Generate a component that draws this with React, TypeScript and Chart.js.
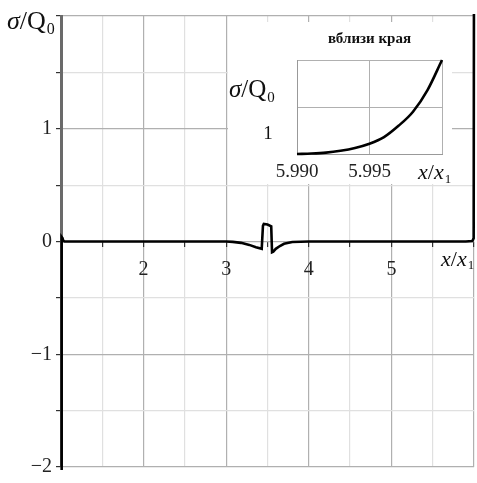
import React, { useEffect, useRef } from "react";
import { Chart, registerables } from "chart.js";

Chart.register(...registerables);

// Main curve: σ/Q0 against x/x1
const mainX = [1.0, 1.004, 1.008, 1.012, 1.018, 1.026, 1.04, 1.5, 2, 2.5, 3, 3.08, 3.18, 3.28, 3.36, 3.43, 3.445, 3.455, 3.5, 3.545, 3.555, 3.57, 3.6, 3.65, 3.7, 3.8, 4, 4.5, 5, 5.5, 5.9, 5.98, 5.996, 6.0];
const mainY = [-2.6, -1.2, -0.2, 0.04, 0.03, 0.01, 0, 0, 0, 0, 0, -0.003, -0.012, -0.03, -0.05, -0.065, 0.14, 0.155, 0.15, 0.135, -0.095, -0.09, -0.065, -0.04, -0.02, -0.005, 0, 0, 0, 0, 0, 0.005, 0.03, 2.6];

// Zoomed view near the edge
const insetX = [5.99, 5.991, 5.992, 5.993, 5.994, 5.995, 5.996, 5.997, 5.998, 5.999, 6.0];
const insetY = [0.5, 0.505, 0.515, 0.535, 0.565, 0.61, 0.68, 0.8, 0.95, 1.18, 1.5];

const mainYLabels: Record<string, string> = { "1": "1", "0": "0", "-1": "\u22121", "-2": "\u22122" };
const mainXLabels = [2, 3, 4, 5];
const insetXLabels: Record<string, string> = { "5.99": "5.990", "5.995": "5.995" };

const SERIF = "'Liberation Serif', 'DejaVu Serif', serif";

function drawRatio(ctx: CanvasRenderingContext2D, x: number, y: number, a: string, b: string, sub: string, size: number, italicB: boolean) {
  ctx.save();
  ctx.fillStyle = "#111";
  ctx.textBaseline = "alphabetic";
  ctx.textAlign = "left";
  ctx.font = `italic ${size}px ${SERIF}`;
  ctx.fillText(a, x, y);
  let cx = x + ctx.measureText(a).width;
  ctx.font = `${size}px ${SERIF}`;
  ctx.fillText("/", cx, y);
  cx += ctx.measureText("/").width;
  ctx.font = `${italicB ? "italic " : ""}${size}px ${SERIF}`;
  ctx.fillText(b, cx, y);
  cx += ctx.measureText(b).width;
  ctx.font = `${Math.round(size * 0.6)}px ${SERIF}`;
  ctx.fillText(sub, cx + 1, y + size * 0.18);
  ctx.restore();
}

const mainLabels = {
  id: "mainLabels",
  afterDraw(chart: any) {
    const ctx = chart.ctx as CanvasRenderingContext2D;
    drawRatio(ctx, 7, 29, "\u03c3", "Q", "0", 26, false);
    const y0 = chart.scales.y.getPixelForValue(0);
    drawRatio(ctx, 441, y0 + 24, "x", "x", "1", 22, true);
  },
};

const insetLabels = {
  id: "insetLabels",
  afterDraw(chart: any) {
    const ctx = chart.ctx as CanvasRenderingContext2D;
    const a = chart.chartArea;
    ctx.save();
    ctx.fillStyle = "#111";
    ctx.font = `bold 15px ${SERIF}`;
    ctx.textAlign = "center";
    ctx.textBaseline = "alphabetic";
    ctx.fillText("вблизи края", (a.left + a.right) / 2, 21);
    ctx.font = `19px ${SERIF}`;
    ctx.fillText("1", 40, 117);
    ctx.restore();
    drawRatio(ctx, 1, 75, "\u03c3", "Q", "0", 25, false);
    drawRatio(ctx, a.right - 24, a.bottom + 25, "x", "x", "1", 22, true);
  },
};

export default function App() {
  const mainRef = useRef<HTMLCanvasElement>(null);
  const insetRef = useRef<HTMLCanvasElement>(null);

  useEffect(() => {
    const gridColor = (c: any) => (Math.abs(c.tick.value - Math.round(c.tick.value)) < 1e-6 ? "#b0b0b0" : "#e0e0e0");

    const main = new Chart(mainRef.current!, {
      type: "line",
      data: {
        datasets: [
          {
            data: mainX.map((x, i) => ({ x, y: mainY[i] })),
            borderColor: "#000",
            borderWidth: 2.6,
            pointRadius: 0,
            tension: 0,
            clip: { left: 3, right: 3, top: 2, bottom: 3 } as any,
          },
        ],
      },
      options: {
        responsive: false,
        animation: false,
        layout: { padding: { top: 14, right: 3, bottom: 8, left: 0 } },
        plugins: { legend: { display: false }, tooltip: { enabled: false } },
        scales: {
          x: {
            type: "linear",
            min: 1,
            max: 6,
            position: { y: 0 } as any,
            afterFit: (s: any) => {
              s.paddingLeft = 0;
              s.paddingRight = 0;
            },
            border: { display: false },
            grid: { color: gridColor, tickColor: "#333", tickLength: 5, lineWidth: 1.2 },
            ticks: {
              stepSize: 0.5,
              autoSkip: false,
              maxRotation: 0,
              padding: 11,
              color: "#222",
              font: { family: SERIF, size: 20 },
              callback: (v: any) => (mainXLabels.includes(Number(v)) ? String(v) : ""),
            },
          },
          y: {
            type: "linear",
            min: -2,
            max: 2,
            afterFit: (s: any) => {
              s.width = 61;
            },
            border: { color: "#6a6a6a", width: 3 },
            grid: { color: gridColor, tickColor: "#333", tickLength: 5, lineWidth: 1.2 },
            ticks: {
              stepSize: 0.5,
              autoSkip: false,
              padding: 4,
              color: "#222",
              font: { family: SERIF, size: 20 },
              callback: (v: any) => mainYLabels[String(Number(v))] ?? "",
            },
          },
        },
      },
      plugins: [mainLabels],
    });

    const inset = new Chart(insetRef.current!, {
      type: "line",
      data: {
        datasets: [
          {
            data: insetX.map((x, i) => ({ x, y: insetY[i] })),
            borderColor: "#000",
            borderWidth: 2.6,
            pointRadius: 0,
            tension: 0.4,
            cubicInterpolationMode: "monotone",
            clip: 3,
          },
        ],
      },
      options: {
        responsive: false,
        animation: false,
        layout: { padding: { top: 38, right: 10, bottom: 0, left: 0 } },
        plugins: { legend: { display: false }, tooltip: { enabled: false } },
        scales: {
          x: {
            type: "linear",
            min: 5.99,
            max: 6.0,
            afterFit: (s: any) => {
              s.height = 30;
              s.paddingLeft = 0;
              s.paddingRight = 0;
            },
            border: { color: "#999", width: 1 },
            grid: { color: "#b0b0b0", drawTicks: false, lineWidth: 1 },
            ticks: {
              stepSize: 0.005,
              autoSkip: false,
              maxRotation: 0,
              padding: 7,
              color: "#222",
              font: { family: SERIF, size: 19 },
              callback: (v: any) => insetXLabels[String(Math.round(Number(v) * 1000) / 1000)] ?? "",
            },
          },
          y: {
            type: "linear",
            min: 0.5,
            max: 1.5,
            afterFit: (s: any) => {
              s.width = 69;
            },
            border: { color: "#999", width: 1 },
            grid: { color: "#b0b0b0", drawTicks: false, lineWidth: 1 },
            ticks: {
              stepSize: 0.5,
              autoSkip: false,
              display: false,
            },
          },
        },
      },
      plugins: [insetLabels],
    });

    return () => {
      main.destroy();
      inset.destroy();
    };
  }, []);

  return (
    <div style={{ position: "absolute", left: 0, top: 0, width: 477, height: 483, background: "#fff" }}>
      <canvas ref={mainRef} width={477} height={483} style={{ position: "absolute", left: 0, top: 0 }} />
      <canvas
        ref={insetRef}
        width={224}
        height={162}
        style={{ position: "absolute", left: 228, top: 22, background: "#fff" }}
      />
    </div>
  );
}
